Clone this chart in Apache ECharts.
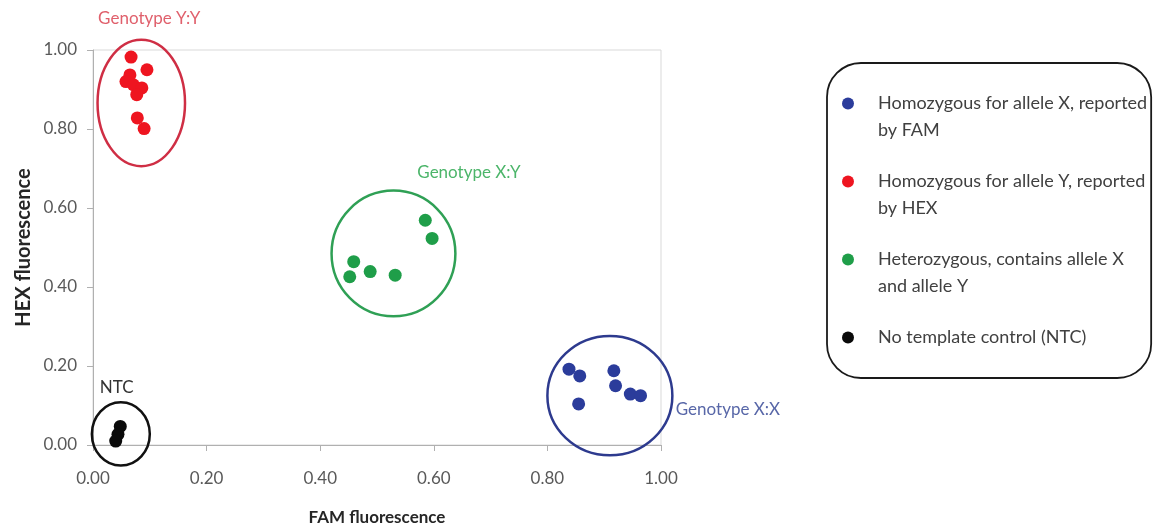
<!DOCTYPE html>
<html><head><meta charset="utf-8">
<script src="https://cdn.jsdelivr.net/npm/echarts@6/dist/echarts.min.js"></script>
<style>html,body{margin:0;padding:0;background:#fff}#chart{width:1156px;height:531px}</style>
</head><body><div id="chart"></div>
<script>
// ---- data ----
const seriesNames = [
  'Homozygous for allele X, reported by FAM',
  'Homozygous for allele Y, reported by HEX',
  'Heterozygous, contains allele X and allele Y',
  'No template control (NTC)'
];
const legendLine1 = ['Homozygous for allele X, reported', 'Homozygous for allele Y, reported', 'Heterozygous, contains allele X', 'No template control (NTC)'];
const legendLine2 = ['by FAM', 'by HEX', 'and allele Y', ''];

const famHomX = [0.838, 0.857, 0.855, 0.917, 0.920, 0.946, 0.964];
const hexHomX = [0.192, 0.175, 0.104, 0.188, 0.150, 0.129, 0.125];

const famHomY = [0.067, 0.095, 0.065, 0.058, 0.071, 0.086, 0.077, 0.078, 0.090];
const hexHomY = [0.982, 0.950, 0.937, 0.920, 0.912, 0.904, 0.887, 0.828, 0.801];

const famHet = [0.585, 0.597, 0.459, 0.452, 0.488, 0.532];
const hexHet = [0.569, 0.523, 0.464, 0.426, 0.439, 0.430];

const famNtc = [0.048, 0.044, 0.040];
const hexNtc = [0.047, 0.027, 0.010];

const tickLabels = ['0.00', '0.20', '0.40', '0.60', '0.80', '1.00'];

const clusterNames = ['Genotype Y:Y', 'Genotype X:Y', 'Genotype X:X', 'NTC'];
const clusterFam = [0.085, 0.529, 0.910, 0.049];
const clusterHex = [0.866, 0.485, 0.125, 0.028];
const clusterRadFam = [0.077, 0.109, 0.110, 0.051];
const clusterRadHex = [0.160, 0.159, 0.151, 0.080];
const clusterLabelFam = [0.009, 0.571, 1.026, 0.012];
const clusterLabelHex = [1.080, 0.691, 0.090, 0.146];

// ---- styles ----
const pointColors = ['#2b3c9b', '#ee1520', '#1f9e49', '#0a0a0a'];
const ringColors = ['#cf2e44', '#2fa055', '#2d3a8e', '#111111'];
const labelColors = ['#e0606c', '#4cb56a', '#5867a8', '#333333'];

const zip = (a, b) => a.map((v, i) => [v, b[i]]);
const pointSets = [zip(famHomX, hexHomX), zip(famHomY, hexHomY), zip(famHet, hexHet), zip(famNtc, hexNtc)];

const clusterData = clusterNames.map((n, i) => [clusterFam[i], clusterHex[i], clusterRadFam[i], clusterRadHex[i], clusterLabelFam[i], clusterLabelHex[i]]);

const FONT = 'Lato, "Open Sans", sans-serif';

const chart = echarts.init(document.getElementById('chart'), null, {renderer: 'canvas'});

const series = seriesNames.map((name, i) => ({
  name: name,
  type: 'scatter',
  data: pointSets[i],
  symbol: 'circle',
  symbolSize: 13,
  itemStyle: {color: pointColors[i], opacity: 1},
  emphasis: {disabled: true},
  z: 3
}));

series.push({
  type: 'custom',
  name: 'clusters',
  data: clusterData,
  clip: false,
  silent: true,
  z: 2,
  renderItem: function (params, api) {
    const i = params.dataIndex;
    const c = api.coord([api.value(0), api.value(1)]);
    const s = api.size([api.value(2), api.value(3)]);
    const l = api.coord([api.value(4), api.value(5)]);
    return {
      type: 'group',
      children: [
        {
          type: 'ellipse',
          shape: {cx: c[0], cy: c[1], rx: s[0], ry: s[1]},
          style: {fill: 'none', stroke: ringColors[i], lineWidth: 2.5}
        },
        {
          type: 'text',
          x: l[0], y: l[1],
          style: {
            text: clusterNames[i],
            fill: labelColors[i],
            font: '17px ' + FONT,
            align: 'left',
            verticalAlign: 'middle'
          }
        }
      ]
    };
  }
});

const tickFmt = v => tickLabels[Math.round(v / 0.2)] || '';

chart.setOption({
  backgroundColor: '#ffffff',
  animation: false,
  textStyle: {fontFamily: FONT},
  grid: {
    left: 93, right: 495, top: 50, bottom: 83,
    show: true, borderColor: '#d9d9d9', borderWidth: 1, backgroundColor: '#ffffff'
  },
  xAxis: {
    type: 'value', min: 0, max: 1, interval: 0.2,
    name: 'FAM fluorescence', nameLocation: 'middle', nameGap: 64,
    nameTextStyle: {fontFamily: FONT, fontSize: 17, fontWeight: 'bold', color: '#262626'},
    axisLine: {show: true, lineStyle: {color: '#b0b0b0', width: 1}},
    axisTick: {show: true, length: 6, lineStyle: {color: '#b0b0b0'}},
    axisLabel: {formatter: tickFmt, color: '#595959', fontSize: 17, fontFamily: FONT, margin: 25},
    splitLine: {show: false}
  },
  yAxis: {
    type: 'value', min: 0, max: 1, interval: 0.2,
    name: 'HEX fluorescence', nameLocation: 'middle', nameGap: 59,
    nameTextStyle: {fontFamily: FONT, fontSize: 20, fontWeight: 'bold', color: '#262626'},
    axisLine: {show: true, lineStyle: {color: '#b0b0b0', width: 1}},
    axisTick: {show: true, length: 6, lineStyle: {color: '#b0b0b0'}},
    axisLabel: {formatter: tickFmt, color: '#595959', fontSize: 17, fontFamily: FONT, margin: 16},
    splitLine: {show: false}
  },
  legend: {
    show: true,
    data: seriesNames,
    orient: 'vertical',
    left: 827, top: 63,
    padding: [0, 4, 0, 15],
    itemWidth: 50, itemHeight: 12, itemGap: -3,
    icon: 'circle',
    borderColor: '#1a1a1a', borderWidth: 1.8, borderRadius: 34,
    backgroundColor: '#ffffff',
    selectedMode: false,
    formatter: function (name) {
      const i = seriesNames.indexOf(name);
      return '\n' + legendLine1[i] + '\n' + legendLine2[i];
    },
    textStyle: {fontFamily: FONT, fontSize: 18, color: '#404040', lineHeight: 27}
  },
  series: series
});
</script>
</body></html>
